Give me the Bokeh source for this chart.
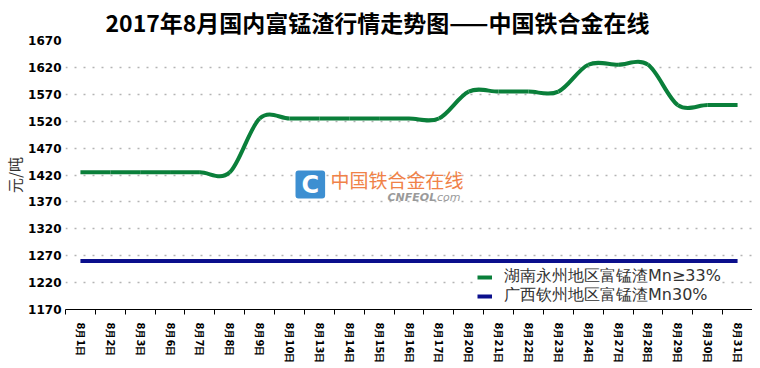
from bokeh.plotting import figure
from bokeh.models import Range1d, FixedTicker, Label, Title, ColumnDataSource, Legend, LegendItem
from bokeh.embed import file_html
from bokeh.resources import INLINE

# ---- data ----
dates = ["8月1日", "8月2日", "8月3日", "8月6日", "8月7日", "8月8日", "8月9日", "8月10日",
         "8月13日", "8月14日", "8月15日", "8月16日", "8月17日", "8月20日", "8月21日", "8月22日",
         "8月23日", "8月24日", "8月27日", "8月28日", "8月29日", "8月30日", "8月31日"]
hunan = [1425, 1425, 1425, 1425, 1425, 1425, 1525, 1525, 1525, 1525, 1525, 1525, 1525,
         1575, 1575, 1575, 1575, 1625, 1625, 1625, 1550, 1550, 1550]
guangxi = [1260, 1260, 1260, 1260, 1260, 1260, 1260, 1260, 1260, 1260, 1260, 1260, 1260,
           1260, 1260, 1260, 1260, 1260, 1260, 1260, 1260, 1260, 1260]
y_ticks = [1170, 1220, 1270, 1320, 1370, 1420, 1470, 1520, 1570, 1620, 1670]
hunan_name = "湖南永州地区富锰渣Mn≥33%"
guangxi_name = "广西钦州地区富锰渣Mn30%"
title_text = "2017年8月国内富锰渣行情走势图——中国铁合金在线"

GREEN = "#0a7f3a"
BLUE = "#0b0f8c"

n = len(dates)
idx = list(range(n))

# smoothed (Catmull-Rom style) bezier segments built from the series values
def smooth_segments(xs, ys):
    seg = dict(x0=[], y0=[], x1=[], y1=[], cx0=[], cy0=[], cx1=[], cy1=[])
    m = len(xs)
    for i in range(m - 1):
        a = i - 1 if i > 0 else i
        b = i + 2 if i + 2 < m else i + 1
        seg["x0"].append(xs[i]); seg["y0"].append(ys[i])
        seg["x1"].append(xs[i + 1]); seg["y1"].append(ys[i + 1])
        seg["cx0"].append(xs[i] + (xs[i + 1] - xs[a]) / 6.0)
        seg["cy0"].append(ys[i] + (ys[i + 1] - ys[a]) / 6.0)
        seg["cx1"].append(xs[i + 1] - (xs[b] - xs[i]) / 6.0)
        seg["cy1"].append(ys[i + 1] - (ys[b] - ys[i]) / 6.0)
    return ColumnDataSource(seg)

W, H = 752, 366
p = figure(width=W, height=H, x_range=Range1d(-0.5, n - 0.5),
           y_range=Range1d(y_ticks[0], y_ticks[-1]),
           output_backend="svg", toolbar_location=None,
           min_border_left=65, min_border_right=0, min_border_top=40, min_border_bottom=50)
p.outline_line_color = None
p.background_fill_color = "white"
p.border_fill_color = "white"

t = Title(text=title_text, text_font_size="23px", text_font="Noto Sans CJK SC",
          text_font_style="bold", text_color="#000000", align="left", offset=40,
          standoff=0, vertical_align="top")
p.add_layout(t, "above")

# grid
p.xgrid.visible = False
p.ygrid.grid_line_color = "#b4b4b4"
p.ygrid.grid_line_dash = "2 7"
p.ygrid.grid_line_width = 1.5

# y axis
p.yaxis.ticker = FixedTicker(ticks=y_ticks)
p.yaxis.axis_line_color = None
p.yaxis.major_tick_line_color = None
p.yaxis.major_tick_out = 0
p.yaxis.major_tick_in = 0
p.yaxis.minor_tick_line_color = None
p.yaxis.major_label_text_font = "DejaVu Sans"
p.yaxis.major_label_text_font_style = "bold"
p.yaxis.major_label_text_font_size = "12px"
p.yaxis.major_label_text_color = "#000000"
p.yaxis.major_label_standoff = 4
p.yaxis.axis_label = "元/吨"
p.yaxis.axis_label_text_font = "Noto Sans CJK SC"
p.yaxis.axis_label_text_font_style = "normal"
p.yaxis.axis_label_text_font_size = "15px"
p.yaxis.axis_label_text_color = "#333333"
p.yaxis.axis_label_standoff = 0

# x axis
p.xaxis.ticker = FixedTicker(ticks=idx, minor_ticks=[i - 0.5 for i in range(n + 1)])
p.xaxis.major_label_overrides = {i: d for i, d in enumerate(dates)}
p.xaxis.major_tick_line_color = None
p.xaxis.major_tick_out = 0
p.xaxis.major_tick_in = 0
p.xaxis.minor_tick_line_color = "#000000"
p.xaxis.minor_tick_out = 5
p.xaxis.minor_tick_in = 0
p.xaxis.axis_line_color = "#000000"
p.xaxis.axis_line_width = 1
p.xaxis.major_label_orientation = "vertical"
p.xaxis.major_label_text_font = "DejaVu Sans"
p.xaxis.major_label_text_font_style = "bold"
p.xaxis.major_label_text_font_size = "10px"
p.xaxis.major_label_text_color = "#000000"
p.xaxis.major_label_standoff = 8

# series
r_gx = p.line(x=idx, y=guangxi, line_color=BLUE, line_width=4)
src = smooth_segments(idx, hunan)
r_hn = p.bezier(x0="x0", y0="y0", x1="x1", y1="y1", cx0="cx0", cy0="cy0", cx1="cx1", cy1="cy1",
                source=src, line_color=GREEN, line_width=4)

# legends (one entry each, placed separately)
def make_legend(label, rend, loc):
    lg = Legend(items=[LegendItem(label=label, renderers=[rend])], location=loc,
                padding=0, margin=0, spacing=0, label_height=16, glyph_height=16,
                glyph_width=15, label_standoff=12, label_text_font="DejaVu Sans",
                label_text_font_size="16px", label_text_color="#333333",
                background_fill_color="white", background_fill_alpha=1.0,
                border_line_color=None)
    p.add_layout(lg, "center")

make_legend(guangxi_name, r_gx, (412, 3))
make_legend(hunan_name, r_hn, (412, 22))

# watermark (screen units relative to the plot frame)
p.add_layout(Label(x=230, y=139, x_units="screen", y_units="screen", text="C",
                   text_font="DejaVu Sans", text_font_style="bold", text_font_size="24px",
                   text_color="white", text_align="left", text_baseline="top",
                   background_fill_color="#3d8fd1", padding=dict(x=6, y=0), border_radius=3))
p.add_layout(Label(x=265, y=144, x_units="screen", y_units="screen", text="中国铁合金在线",
                   text_font="Noto Sans CJK SC", text_font_size="19px",
                   text_color="#f08248", text_align="left", text_baseline="top"))
p.add_layout(Label(x=322, y=119, x_units="screen", y_units="screen", text="CNFEOL",
                   text_font="DejaVu Sans", text_font_style="bold italic", text_font_size="11px",
                   text_color="#9a9a9a", text_align="left", text_baseline="top"))
p.add_layout(Label(x=368, y=119, x_units="screen", y_units="screen", text=".com",
                   text_font="DejaVu Sans", text_font_style="italic", text_font_size="11px",
                   text_color="#9a9a9a", text_align="left", text_baseline="top"))

open("out.html", "w").write(file_html(p, INLINE))
